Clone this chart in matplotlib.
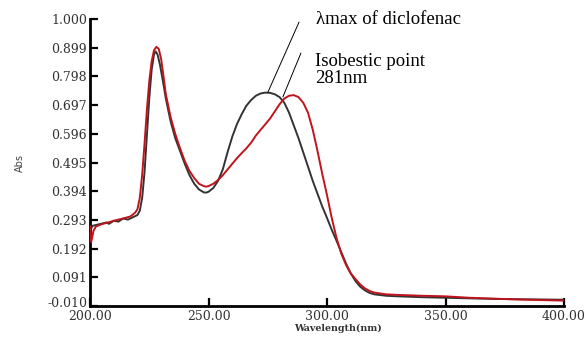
import matplotlib
matplotlib.use("Agg")
import matplotlib.pyplot as plt
from matplotlib.transforms import ScaledTranslation

# ---- data ----
wl_black = [200, 200.5, 201, 203, 205, 207, 208, 210, 212, 214, 216, 218, 220, 221, 222, 223, 224, 225,
            226, 227, 227.7, 228.5, 229.5, 231, 232, 234, 236, 238, 240, 242, 244, 246, 248, 249, 250,
            252, 254, 256, 258, 260, 262, 264, 266, 268, 270, 272, 274, 276, 278, 280, 282, 284, 286,
            288, 290, 292, 294, 296, 298, 300, 302, 304, 306, 308, 310, 312, 314, 316, 318, 320, 325,
            330, 340, 350, 360, 370, 380, 390, 400]
abs_black = [0.255, 0.262, 0.272, 0.276, 0.280, 0.284, 0.279, 0.290, 0.287, 0.298, 0.294, 0.302, 0.310,
             0.325, 0.370, 0.460, 0.590, 0.720, 0.820, 0.875, 0.886, 0.875, 0.840, 0.770, 0.720, 0.640,
             0.580, 0.535, 0.490, 0.450, 0.420, 0.400, 0.390, 0.389, 0.392, 0.405, 0.430, 0.470, 0.530,
             0.585, 0.630, 0.665, 0.695, 0.715, 0.730, 0.738, 0.741, 0.740, 0.735, 0.725, 0.705, 0.670,
             0.625, 0.580, 0.530, 0.480, 0.430, 0.385, 0.340, 0.300, 0.258, 0.220, 0.180, 0.140, 0.105,
             0.078, 0.058, 0.045, 0.036, 0.031, 0.026, 0.024, 0.021, 0.019, 0.017, 0.015, 0.014, 0.013,
             0.012]

wl_red = [200, 200.5, 201.5, 202.5, 205, 208, 211, 214, 217, 219, 220, 221, 222, 223, 224, 225, 226,
          227, 228, 229, 230, 231, 232, 234, 236, 238, 240, 242, 244, 246, 248, 249, 250, 252, 254, 256,
          258, 260, 262, 264, 266, 268, 270, 272, 274, 276, 278, 280, 282, 284, 286, 288, 290, 292, 294,
          296, 298, 300, 302, 304, 306, 308, 310, 312, 314, 316, 318, 320, 325, 330, 340, 350, 360, 370,
          380, 390, 400]
abs_red = [0.270, 0.215, 0.255, 0.270, 0.278, 0.285, 0.292, 0.298, 0.305, 0.318, 0.330, 0.370, 0.450,
           0.560, 0.680, 0.780, 0.850, 0.890, 0.902, 0.895, 0.860, 0.800, 0.735, 0.655, 0.595, 0.545,
           0.500, 0.465, 0.440, 0.420, 0.412, 0.410, 0.412, 0.420, 0.433, 0.450, 0.470, 0.490, 0.510,
           0.528, 0.545, 0.565, 0.590, 0.610, 0.630, 0.650, 0.675, 0.700, 0.720, 0.730, 0.732, 0.725,
           0.705, 0.670, 0.610, 0.535, 0.455, 0.380, 0.300, 0.230, 0.175, 0.135, 0.105, 0.085, 0.066,
           0.052, 0.043, 0.037, 0.031, 0.029, 0.026, 0.024, 0.019, 0.016, 0.013, 0.011, 0.009]

x_ticks = [200, 250, 300, 350, 400]
x_tick_labels = ["200.00", "250.00", "300.00", "350.00", "400.00"]
y_ticks = [-0.010, 0.091, 0.192, 0.293, 0.394, 0.495, 0.596, 0.697, 0.798, 0.899, 1.000]
y_tick_labels = ["-0.010", "0.091", "0.192", "0.293", "0.394", "0.495", "0.596", "0.697", "0.798",
                 "0.899", "1.000"]

lambda_max = 276
isosbestic = 281

fig = plt.figure(figsize=(5.87, 3.38), dpi=100)
ax = fig.add_axes([90 / 587, 32 / 338, (564 - 90) / 587, (306 - 19) / 338])

ax.plot(wl_black, abs_black, color="#333333", lw=1.4, zorder=3)
ax.plot(wl_red, abs_red, color="#c0141c", lw=1.4, zorder=4)

ax.set_xlim(200, 400)
ax.set_ylim(-0.010, 1.000)

for s in ["top", "right"]:
    ax.spines[s].set_visible(False)
for s in ["left", "bottom"]:
    ax.spines[s].set_linewidth(2.0)
    ax.spines[s].set_color("black")

tick_font = dict(family="DejaVu Serif", size=9)
ax.set_xticks(x_ticks)
ax.set_xticklabels(x_tick_labels, **tick_font, color="#333333")
ax.set_yticks(y_ticks)
ax.set_yticklabels(y_tick_labels, **tick_font, color="#333333")
ax.tick_params(axis="both", direction="in", length=6, width=1.6, color="black")
ax.tick_params(axis="x", pad=3)
ax.tick_params(axis="y", pad=2)
# bottom y label is pushed up slightly in the reference
lab0 = ax.get_yticklabels()[0]
lab0.set_transform(lab0.get_transform() + ScaledTranslation(0, 4 / 100, fig.dpi_scale_trans))

ax.set_xlabel("Wavelength(nm)", family="DejaVu Serif", fontweight="bold", size=6.8,
              color="#333333")
ax.xaxis.set_label_coords(0.523, -0.062)
ax.set_ylabel("Abs", family="DejaVu Sans", size=7, color="#444444")
ax.yaxis.set_label_coords(-0.138, 0.50)

# annotations
ax.annotate("", xy=(lambda_max - 0.9, 0.743), xytext=(288.2, 0.989),
            arrowprops=dict(arrowstyle="-", color="black", lw=0.7, shrinkA=0, shrinkB=0),
            annotation_clip=False)
ax.annotate("", xy=(isosbestic + 0.4, 0.726), xytext=(289.0, 0.880),
            arrowprops=dict(arrowstyle="-", color="black", lw=0.7, shrinkA=0, shrinkB=0),
            annotation_clip=False)
ax.text(295.4, 1.0, "λmax of diclofenac", family="Liberation Serif", size=13.5,
        va="center", ha="left", clip_on=False)
ax.text(294.9, 0.852, "Isobestic point", family="Liberation Serif", size=13.5,
        va="center", ha="left", clip_on=False)
ax.text(294.9, 0.789, "281nm", family="Liberation Serif", size=13.5,
        va="center", ha="left", clip_on=False)

fig.savefig("out.png", dpi=100)
